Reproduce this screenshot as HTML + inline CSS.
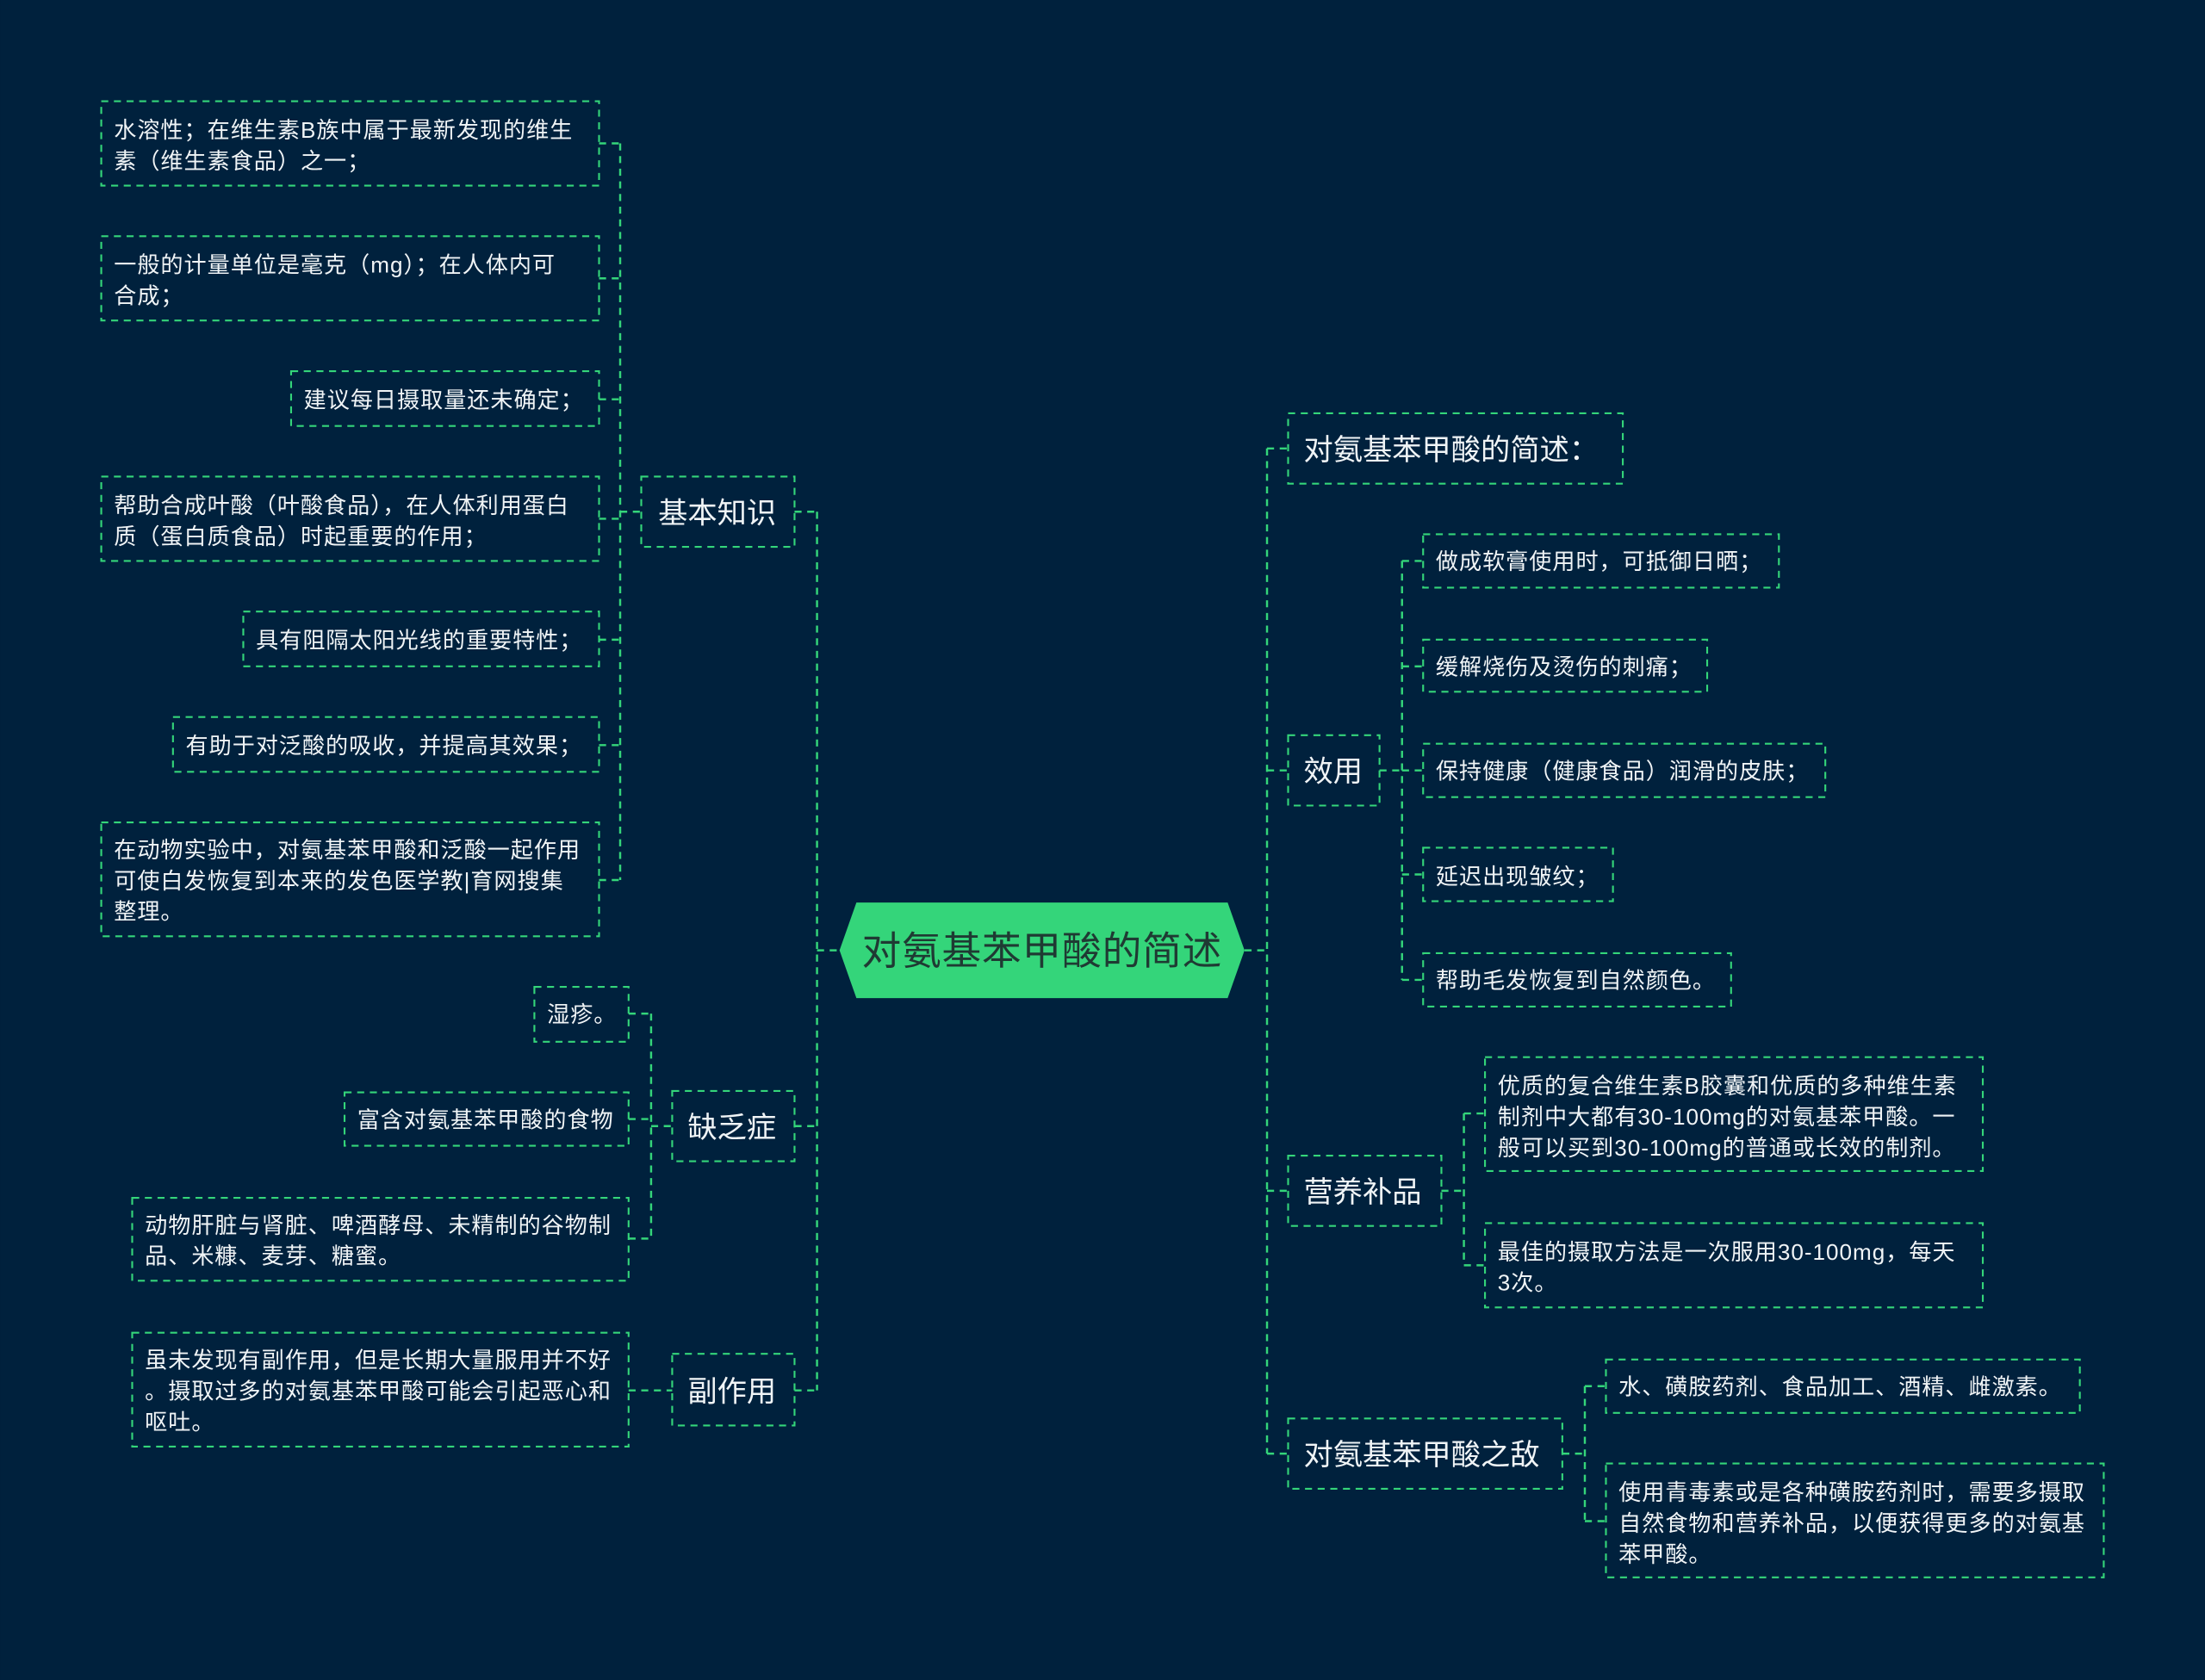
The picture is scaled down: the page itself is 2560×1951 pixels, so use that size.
<!DOCTYPE html>
<html><head><meta charset="utf-8"><style>
html,body{margin:0;padding:0;background:#00213d;}
svg{display:block}
text{font-family:"Liberation Sans","Noto Sans CJK SC",sans-serif;fill:#f0f4f6}
.b{fill:none;stroke:#34d57a;stroke-width:1.3;stroke-dasharray:5 4}
.l{fill:none;stroke:#34d57a;stroke-width:1.5;stroke-dasharray:5 4}
.s{font-size:16px;letter-spacing:0.6px}
.t{font-size:21px}
</style></head><body>
<svg width="2560" height="1951" viewBox="0 0 1568 1195" xmlns="http://www.w3.org/2000/svg">
<rect width="1568" height="1195" fill="#00213d"/>
<g class="l">
<path d="M441 102V626 M426 102H441 M426 198H441 M426 284H441 M426 369H441 M426 455H441 M426 530H441 M426 626H441 M441 364H456 M565 364H581"/>
<path d="M581 364V989 M581 676H597 M565 801H581 M565 989H581"/>
<path d="M463 721V881 M447 721H463 M447 796H463 M447 881H463 M463 801H478 M447 989H478"/>
<path d="M885 676H901 M901 319V1034 M901 319H916 M901 548H916 M901 847H916 M901 1034H916"/>
<path d="M981 548H997 M997 399V697 M997 399H1012 M997 474H1012 M997 548H1012 M997 622H1012 M997 697H1012"/>
<path d="M1025 847H1041 M1041 792V900 M1041 792H1056 M1041 900H1056"/>
<path d="M1111 1034H1127 M1127 986V1082 M1127 986H1142 M1127 1082H1142"/>
</g>
<polygon points="609,642 873,642 885,676 873,710 609,710 597,676" fill="#34d57a"/>
<text x="741" y="686" text-anchor="middle" style="font-size:28px;fill:#1f3a33;letter-spacing:0.5px">对氨基苯甲酸的简述</text>
<g class="b">
<rect x="72" y="72" width="354" height="60"/>
<rect x="72" y="168" width="354" height="60"/>
<rect x="207" y="264" width="219" height="39"/>
<rect x="72" y="339" width="354" height="60"/>
<rect x="173" y="435" width="253" height="39"/>
<rect x="123" y="510" width="303" height="39"/>
<rect x="72" y="585" width="354" height="81"/>
<rect x="456" y="339" width="109" height="50"/>
<rect x="380" y="702" width="67" height="39"/>
<rect x="245" y="777" width="202" height="38"/>
<rect x="94" y="852" width="353" height="59"/>
<rect x="478" y="776" width="87" height="50"/>
<rect x="94" y="948" width="353" height="81"/>
<rect x="478" y="963" width="87" height="51"/>
<rect x="916" y="294" width="238" height="50"/>
<rect x="916" y="523" width="65" height="50"/>
<rect x="916" y="822" width="109" height="50"/>
<rect x="916" y="1009" width="195" height="50"/>
<rect x="1012" y="380" width="253" height="38"/>
<rect x="1012" y="455" width="202" height="37"/>
<rect x="1012" y="529" width="286" height="38"/>
<rect x="1012" y="603" width="135" height="38"/>
<rect x="1012" y="678" width="219" height="38"/>
<rect x="1056" y="752" width="354" height="81"/>
<rect x="1056" y="870" width="354" height="60"/>
<rect x="1142" y="967" width="337" height="38"/>
<rect x="1142" y="1041" width="354" height="81"/>
</g>
<g class="s">
<text x="81" y="98">水溶性；在维生素B族中属于最新发现的维生</text>
<text x="81" y="120">素（维生素食品）之一；</text>
<text x="81" y="194">一般的计量单位是毫克（mg）；在人体内可</text>
<text x="81" y="216">合成；</text>
<text x="216" y="290">建议每日摄取量还未确定；</text>
<text x="81" y="365">帮助合成叶酸（叶酸食品），在人体利用蛋白</text>
<text x="81" y="387">质（蛋白质食品）时起重要的作用；</text>
<text x="182" y="461">具有阻隔太阳光线的重要特性；</text>
<text x="132" y="536">有助于对泛酸的吸收，并提高其效果；</text>
<text x="81" y="610">在动物实验中，对氨基苯甲酸和泛酸一起作用</text>
<text x="81" y="632">可使白发恢复到本来的发色医学教|育网搜集</text>
<text x="81" y="654">整理。</text>
<text x="389" y="727">湿疹。</text>
<text x="254" y="802">富含对氨基苯甲酸的食物</text>
<text x="103" y="877">动物肝脏与肾脏、啤酒酵母、未精制的谷物制</text>
<text x="103" y="899">品、米糠、麦芽、糖蜜。</text>
<text x="103" y="973">虽未发现有副作用，但是长期大量服用并不好</text>
<text x="103" y="995">。摄取过多的对氨基苯甲酸可能会引起恶心和</text>
<text x="103" y="1017">呕吐。</text>
<text x="1021" y="405">做成软膏使用时，可抵御日晒；</text>
<text x="1021" y="480">缓解烧伤及烫伤的刺痛；</text>
<text x="1021" y="554">保持健康（健康食品）润滑的皮肤；</text>
<text x="1021" y="629">延迟出现皱纹；</text>
<text x="1021" y="703">帮助毛发恢复到自然颜色。</text>
<text x="1065" y="778">优质的复合维生素B胶囊和优质的多种维生素</text>
<text x="1065" y="800">制剂中大都有30-100mg的对氨基苯甲酸。一</text>
<text x="1065" y="822">般可以买到30-100mg的普通或长效的制剂。</text>
<text x="1065" y="896">最佳的摄取方法是一次服用30-100mg，每天</text>
<text x="1065" y="918">3次。</text>
<text x="1151" y="992">水、磺胺药剂、食品加工、酒精、雌激素。</text>
<text x="1151" y="1067">使用青毒素或是各种磺胺药剂时，需要多摄取</text>
<text x="1151" y="1089">自然食物和营养补品，以便获得更多的对氨基</text>
<text x="1151" y="1111">苯甲酸。</text>
</g>
<g class="t">
<text x="468" y="372">基本知识</text>
<text x="489" y="809">缺乏症</text>
<text x="489" y="997">副作用</text>
<text x="927" y="327">对氨基苯甲酸的简述：</text>
<text x="927" y="556">效用</text>
<text x="927" y="855">营养补品</text>
<text x="927" y="1042">对氨基苯甲酸之敌</text>
</g>
</svg>
</body></html>
